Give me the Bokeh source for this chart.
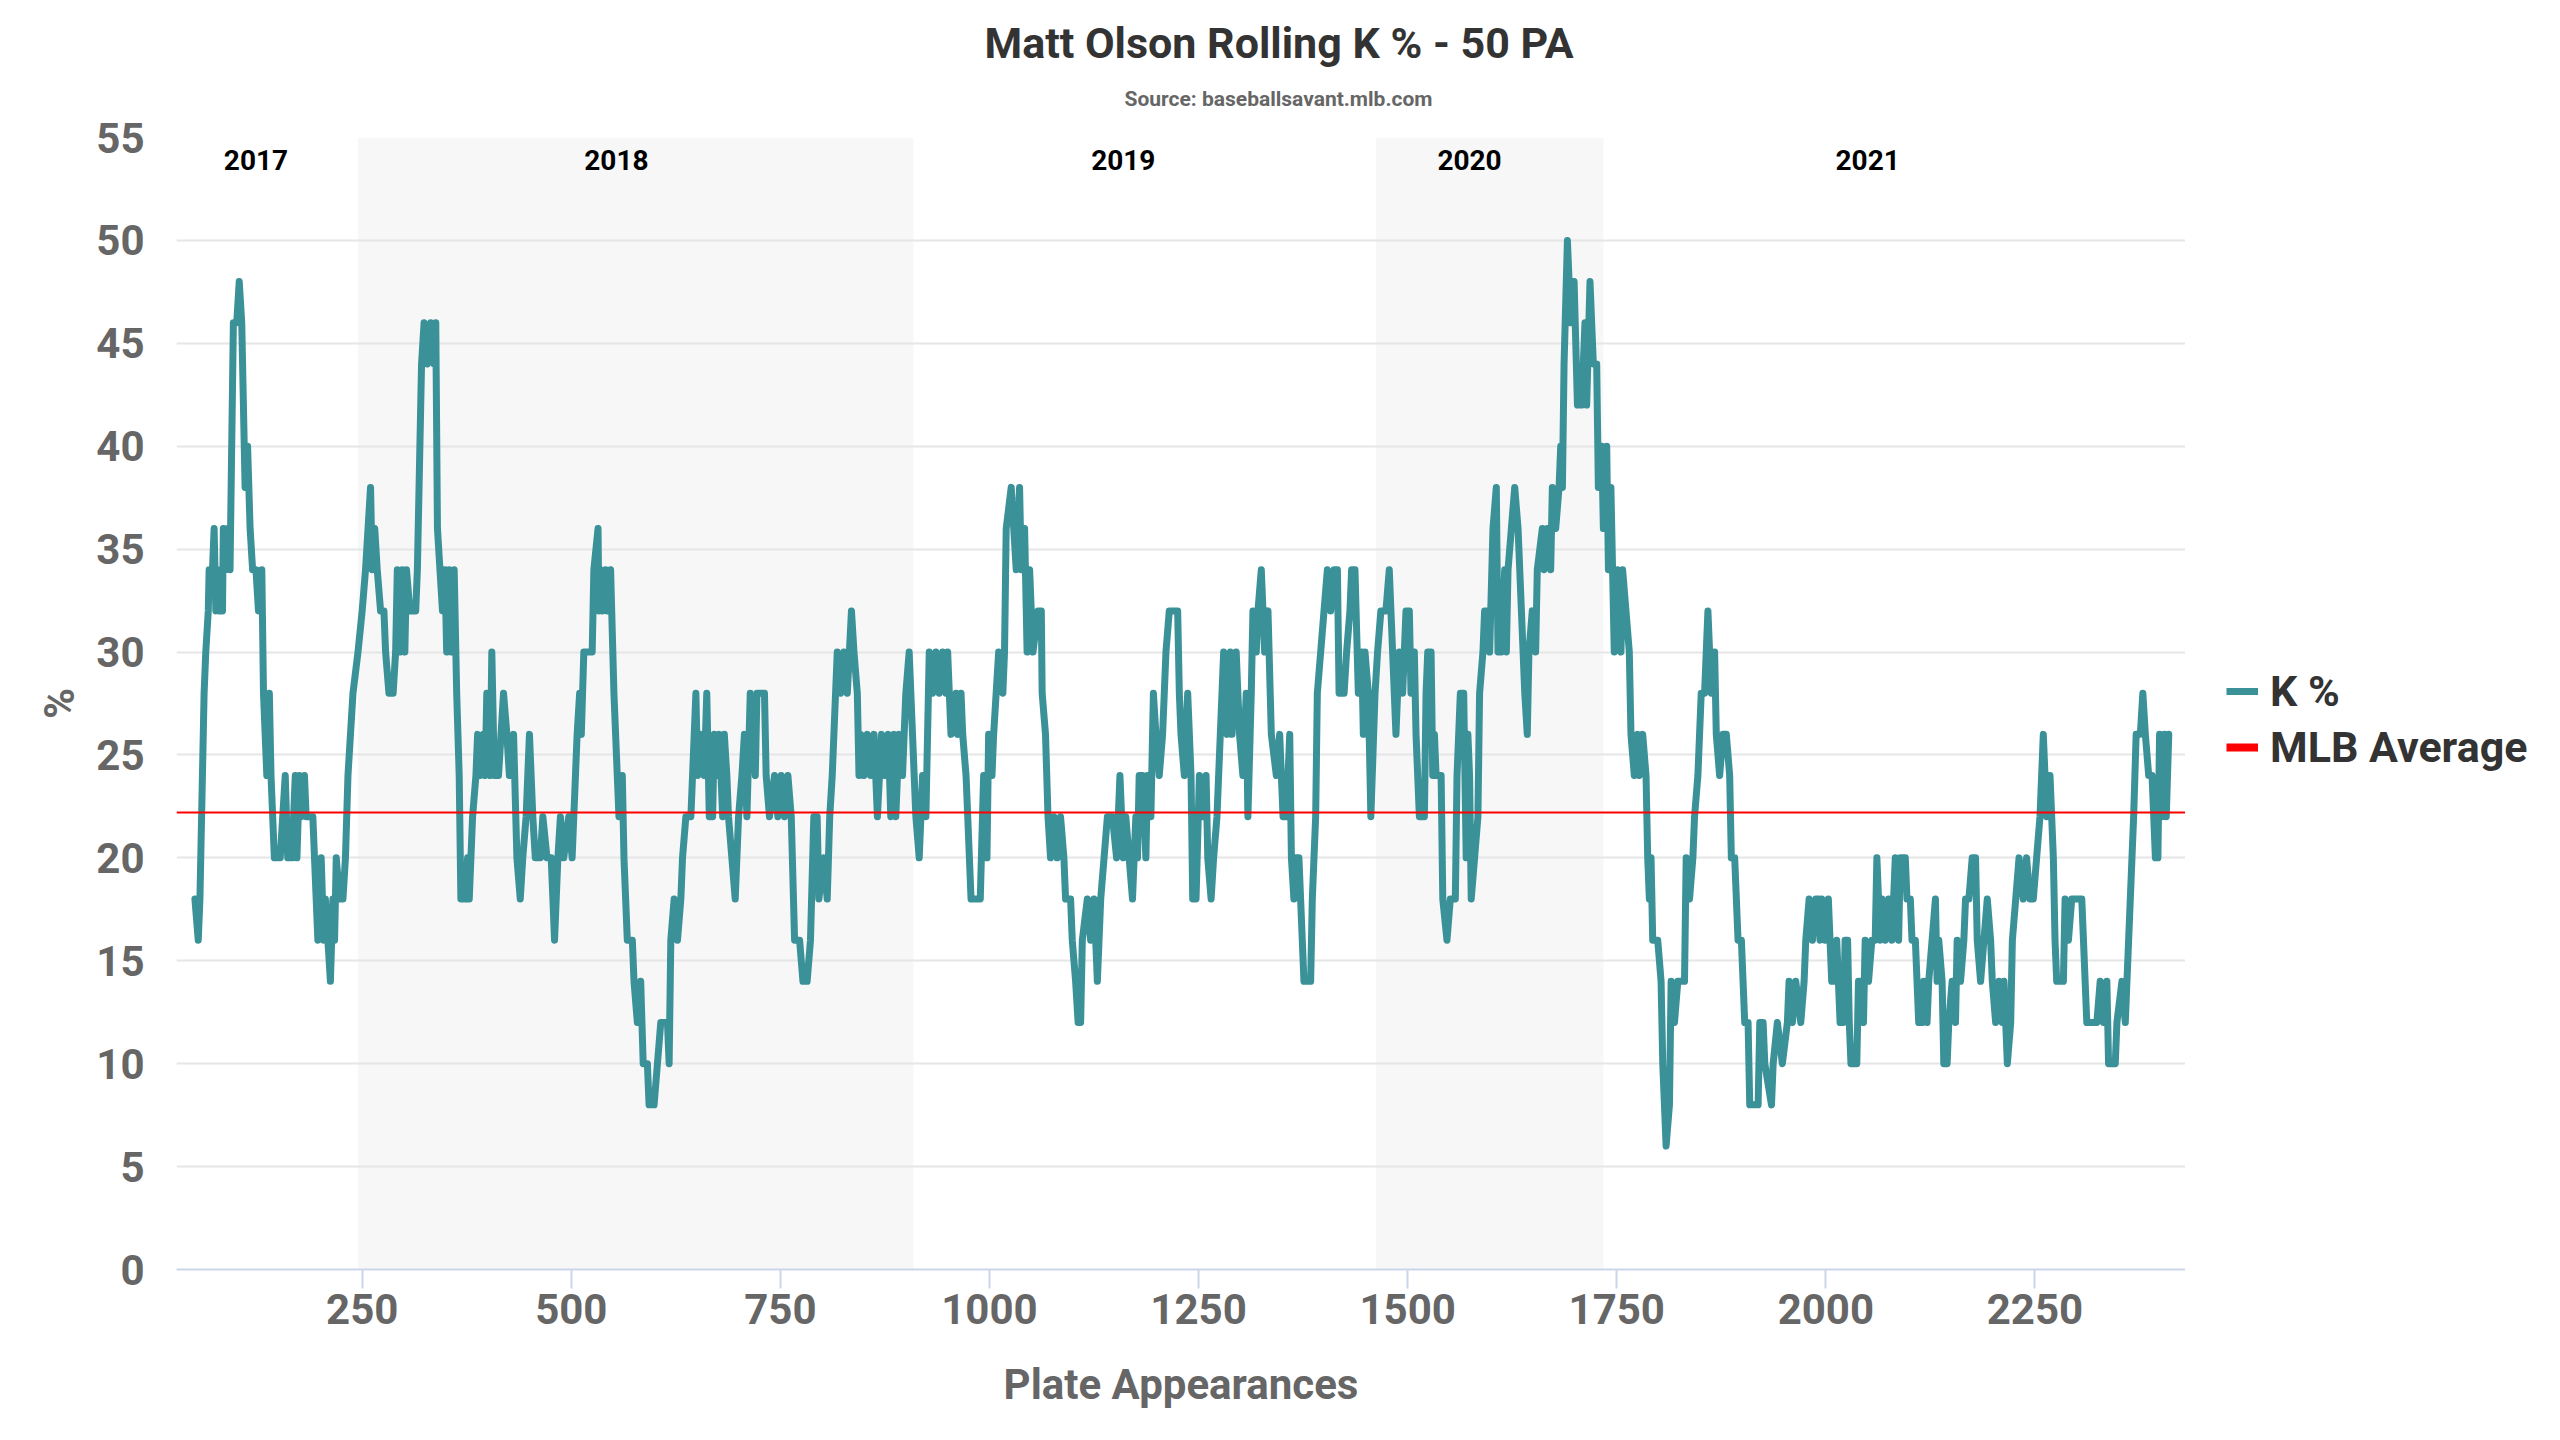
from bokeh.plotting import figure
from bokeh.layouts import row
from bokeh.models import (Range1d, FixedTicker, BoxAnnotation, Span, Legend,
                          LegendItem, Title)
from bokeh.embed import file_html
from bokeh.resources import INLINE
from bokeh.core.properties import value

# ---------------- data ----------------
pa = [
    50, 54, 56, 58, 61, 63, 66, 67, 71, 73, 75, 77, 79, 83, 84, 86, 89, 92, 94, 96,
    100, 103, 106, 108, 110, 113, 116, 119, 123, 126, 130, 132, 136, 139, 141, 145, 152, 158, 161, 166,
    170, 172, 175, 177, 181, 183, 191, 193, 195, 197, 201, 204, 206, 212, 215, 217, 219, 223, 227, 230,
    233, 236, 239, 245, 250, 254, 260, 262, 265, 268, 272, 276, 278, 282, 287, 290, 292, 295, 298, 301,
    303, 307, 314, 316, 318, 321, 324, 328, 332, 336, 338, 340, 343, 346, 349, 351, 354, 357, 360, 363,
    366, 368, 374, 376, 378, 382, 386, 388, 391, 395, 397, 399, 403, 405, 408, 413, 419, 423, 426, 431,
    435, 439, 442, 446, 450, 454, 457, 463, 466, 471, 476, 480, 484, 487, 491, 497, 501, 505, 507, 510,
    512, 515, 522,
    525, 527, 532, 533, 535, 537, 541, 543, 547, 551, 553, 555, 557, 561, 563, 567, 573, 575, 579, 583,
    586, 591, 593, 599, 603, 607, 615, 617, 619, 623, 627, 631, 633, 637, 643, 645, 649, 651, 655, 659,
    662, 665, 669, 671, 675, 677, 681, 683, 686, 688, 692, 696, 700, 704, 707, 710, 714, 718, 720, 722,
    731, 733, 737, 743, 747, 751, 755, 759, 763, 767, 773, 777, 782, 786, 790, 794, 796, 802, 806, 809,
    812, 814, 818, 822, 826, 830, 835, 838, 842, 844, 846, 850, 854, 858, 862, 866, 871, 875, 879, 882,
    886, 888, 892, 896, 900, 904, 908, 912, 916, 920, 924, 928, 932, 936, 940, 944, 948, 950, 954, 960,
    962, 966, 968, 972, 974, 978, 989, 993, 997, 999, 1003, 1005, 1011,
    1016, 1018, 1020, 1026, 1032, 1036, 1038, 1042, 1045, 1048, 1052, 1058, 1062, 1063, 1067, 1070, 1073, 1077, 1081, 1085,
    1089, 1091, 1097, 1099, 1103, 1106, 1109, 1111, 1117, 1121, 1125, 1129, 1133, 1137, 1141, 1147, 1152, 1156, 1160, 1163,
    1167, 1171, 1175, 1177, 1179, 1183, 1187, 1189, 1193, 1196, 1199, 1203, 1207, 1211, 1215, 1225, 1227, 1229, 1233, 1237,
    1241, 1243, 1247, 1251, 1255, 1259, 1261, 1265, 1268, 1272, 1276, 1280, 1284, 1288, 1290, 1295, 1299, 1303, 1307, 1309,
    1313, 1315, 1319, 1321, 1325, 1329, 1333, 1337, 1343, 1347, 1351, 1355, 1359, 1361, 1364, 1366, 1370, 1374, 1376, 1384,
    1386, 1390, 1392, 1396, 1400, 1404, 1408, 1412, 1416, 1418, 1424, 1427, 1431, 1433, 1437, 1441, 1445, 1447, 1449, 1453,
    1456, 1461, 1464, 1468, 1474, 1478, 1482, 1486, 1490, 1494, 1498, 1502,
    1504, 1508, 1510, 1512, 1514, 1520, 1522, 1524, 1528, 1530, 1532, 1534, 1540, 1542, 1547, 1551, 1557, 1559, 1563, 1567,
    1570, 1572, 1574, 1576, 1580, 1584, 1586, 1590, 1592, 1596, 1598, 1602, 1606, 1608, 1610, 1612, 1616, 1618, 1620, 1624,
    1628, 1632, 1636, 1640, 1643, 1645, 1649, 1653, 1655, 1661, 1663, 1667, 1671, 1673, 1677, 1681, 1683, 1685, 1687, 1691,
    1695, 1699, 1703, 1708, 1712, 1714, 1718, 1722, 1726, 1728, 1732, 1734, 1738, 1740, 1743, 1745, 1747, 1751, 1755, 1757,
    1761, 1765, 1767, 1771, 1775, 1777, 1781, 1785, 1787, 1789, 1791, 1793, 1799, 1803, 1805, 1809, 1813, 1815, 1819, 1823,
    1831, 1833, 1837, 1841, 1843, 1847, 1851, 1855, 1857, 1859, 1863, 1867, 1869, 1873, 1877, 1881, 1885, 1887, 1891, 1893,
    1895, 1899, 1901, 1903, 1907, 1909, 1919, 1921, 1925, 1927, 1935, 1937, 1942, 1948, 1954, 1956, 1960, 1964, 1970, 1974,
    1976, 1980, 1984, 1988, 1992,
    1993, 1995, 1999, 2003, 2007, 2011, 2013, 2017, 2021, 2023, 2026, 2028, 2030, 2037, 2039, 2043, 2045, 2047, 2051, 2055,
    2059, 2061, 2065, 2067, 2071, 2075, 2079, 2083, 2087, 2089, 2095, 2097, 2101, 2103, 2107, 2111, 2115, 2117, 2121, 2123,
    2127, 2131, 2133, 2135, 2139, 2141, 2145, 2147, 2151, 2155, 2157, 2161, 2165, 2167, 2171, 2175, 2179, 2181, 2185, 2189,
    2193, 2197, 2199, 2203, 2207, 2211, 2213, 2217, 2221, 2223, 2227, 2231, 2236, 2240, 2244, 2248, 2252, 2256, 2260, 2264,
    2268, 2272, 2274, 2276, 2284, 2286, 2290, 2294, 2306, 2308, 2312, 2324, 2328, 2332, 2336, 2338, 2346, 2348, 2354, 2358,
    2362, 2366, 2368, 2371, 2376, 2379, 2382, 2386, 2390, 2394, 2397, 2399, 2402, 2405, 2407, 2410,
]
k_pct = [
    18, 16, 18, 22, 28, 30, 32, 34, 34, 36, 32, 34, 32, 32, 36, 34, 36, 34, 40, 46,
    46, 48, 46, 42, 38, 40, 36, 34, 34, 32, 34, 28, 24, 28, 24, 20, 20, 24, 20, 20,
    24, 20, 24, 22, 24, 22, 22, 20, 18, 16, 20, 16, 18, 14, 18, 16, 20, 18, 18, 20,
    24, 26, 28, 30, 32, 34, 38, 34, 36, 34, 32, 32, 30, 28, 28, 30, 34, 30, 34, 30,
    34, 32, 32, 34, 38, 44, 46, 44, 46, 44, 46, 36, 34, 32, 34, 30, 34, 30, 34, 28,
    24, 18, 18, 20, 18, 22, 24, 26, 24, 26, 24, 28, 24, 30, 24, 24, 28, 26, 24, 26,
    20, 18, 20, 22, 26, 22, 20, 20, 22, 20, 20, 16, 20, 22, 20, 22, 20, 24, 26, 28,
    26, 30, 30,
    30, 34, 36, 32, 34, 32, 34, 32, 34, 28, 26, 24, 22, 24, 20, 16, 16, 14, 12, 14,
    10, 10, 8, 8, 10, 12, 12, 10, 16, 18, 16, 18, 20, 22, 22, 24, 28, 24, 26, 24,
    28, 22, 22, 26, 24, 26, 22, 26, 24, 22, 20, 18, 22, 24, 26, 22, 28, 26, 24, 28,
    28, 24, 22, 24, 22, 24, 22, 24, 22, 16, 16, 14, 14, 16, 22, 22, 18, 20, 18, 22,
    24, 26, 30, 28, 30, 28, 32, 30, 28, 24, 26, 24, 26, 24, 26, 22, 26, 24, 26, 22,
    26, 22, 26, 24, 28, 30, 26, 22, 20, 24, 22, 30, 28, 30, 28, 30, 28, 30, 26, 28,
    26, 28, 26, 24, 22, 18, 18, 24, 20, 26, 24, 26, 30,
    28, 30, 36, 38, 34, 38, 34, 36, 30, 34, 30, 32, 32, 28, 26, 22, 20, 22, 20, 22,
    20, 18, 18, 16, 14, 12, 12, 16, 18, 16, 18, 14, 18, 20, 22, 22, 20, 24, 20, 22,
    20, 18, 22, 20, 24, 24, 20, 24, 22, 28, 26, 24, 26, 30, 32, 32, 28, 26, 24, 28,
    24, 18, 18, 24, 22, 24, 20, 18, 20, 22, 26, 30, 26, 30, 26, 30, 26, 24, 28, 22,
    28, 32, 30, 32, 34, 30, 32, 26, 24, 26, 22, 22, 26, 20, 18, 20, 20, 16, 14, 14,
    18, 22, 28, 30, 32, 34, 32, 34, 34, 28, 28, 30, 32, 34, 34, 28, 30, 26, 30, 28,
    22, 28, 30, 32, 32, 34, 30, 26, 30, 28, 32, 32,
    28, 30, 26, 24, 22, 22, 28, 30, 30, 24, 26, 24, 24, 18, 16, 18, 18, 24, 28, 28,
    20, 26, 24, 18, 20, 22, 28, 30, 32, 32, 30, 36, 38, 30, 32, 30, 34, 30, 34, 36,
    38, 36, 32, 28, 26, 30, 32, 30, 34, 36, 34, 36, 34, 38, 36, 38, 40, 38, 44, 50,
    46, 48, 42, 42, 46, 42, 48, 44, 44, 38, 40, 36, 40, 34, 38, 34, 30, 34, 30, 34,
    32, 30, 26, 24, 26, 24, 26, 24, 20, 18, 20, 16, 16, 14, 10, 6, 8, 14, 12, 14,
    14, 20, 18, 20, 22, 24, 28, 28, 30, 32, 28, 30, 26, 24, 26, 26, 24, 20, 20, 18,
    16, 16, 14, 12, 12, 8, 8, 12, 12, 10, 8, 10, 12, 10, 12, 14, 12, 14, 12, 14,
    16, 18, 16, 18, 18,
    16, 18, 16, 18, 14, 14, 16, 12, 12, 16, 16, 12, 10, 10, 14, 14, 12, 16, 14, 16,
    16, 20, 16, 18, 16, 18, 16, 20, 16, 20, 20, 18, 18, 16, 16, 12, 12, 14, 12, 14,
    16, 18, 14, 16, 14, 10, 10, 12, 14, 12, 16, 14, 16, 18, 18, 20, 20, 16, 14, 16,
    18, 16, 14, 12, 14, 12, 14, 10, 12, 16, 18, 20, 18, 20, 18, 18, 20, 22, 26, 22,
    24, 20, 16, 14, 14, 18, 16, 18, 18, 16, 12, 12, 14, 12, 14, 10, 10, 12, 14, 12,
    16, 20, 22, 26, 26, 28, 26, 24, 24, 20, 20, 26, 22, 26, 22, 26,
]
mlb_average = 22.2

season_names = ["2017", "2018", "2019", "2020", "2021"]
season_label_pa = [123, 554, 1160, 1574, 2050]
shaded_start = [245, 1462]     # 2018, 2020
shaded_end = [909, 1734]

x_ticks = [250, 500, 750, 1000, 1250, 1500, 1750, 2000, 2250]
y_ticks = [0, 5, 10, 15, 20, 25, 30, 35, 40, 45, 50, 55]

series_names = ["K %", "MLB Average"]

# ---------------- style ----------------
FONT = "Roboto"
TEAL = "#3b9198"
RED = "#ff0000"
GRAY = "#666666"
DARK = "#333333"

p = figure(width=2185, height=1440, output_backend="svg", toolbar_location=None,
           x_range=Range1d(28, 2430), y_range=Range1d(0, 55),
           min_border_left=176, min_border_right=0,
           min_border_top=137, min_border_bottom=171,
           background_fill_color="white", border_fill_color="white",
           outline_line_color=None)
p.title = None

sub = Title(text="Source: baseballsavant.mlb.com", align="left", offset=948,
            text_font=FONT, text_font_size="21px", text_font_style="bold",
            text_color=GRAY, standoff=53)
main = Title(text="Matt Olson Rolling K % - 50 PA", align="left", offset=808,
             text_font=FONT, text_font_size="43px", text_font_style="bold",
             text_color=DARK, standoff=-18)
p.add_layout(sub, "above")
p.add_layout(main, "above")

for s, e in zip(shaded_start, shaded_end):
    p.add_layout(BoxAnnotation(left=s, right=e, fill_color="#f7f7f7", fill_alpha=1.0,
                               line_color=None, level="image"))

p.xgrid.grid_line_color = None
p.ygrid.ticker = FixedTicker(ticks=y_ticks)
p.ygrid.grid_line_color = "#e6e6e6"
p.ygrid.grid_line_width = 2

# x axis
xa = p.xaxis[0]
xa.ticker = FixedTicker(ticks=x_ticks)
xa.axis_line_color = "#ccd6eb"
xa.axis_line_width = 2
xa.major_tick_line_color = "#ccd6eb"
xa.major_tick_line_width = 2
xa.major_tick_in = 0
xa.major_tick_out = 19
xa.minor_tick_line_color = None
xa.major_label_text_font = FONT
xa.major_label_text_font_size = "42px"
xa.major_label_text_font_style = "bold"
xa.major_label_text_color = GRAY
xa.major_label_standoff = 5
xa.axis_label = "Plate Appearances"
xa.axis_label_text_font = FONT
xa.axis_label_text_font_size = "42px"
xa.axis_label_text_font_style = "bold"
xa.axis_label_text_color = GRAY
xa.axis_label_standoff = 33

# y axis
ya = p.yaxis[0]
ya.ticker = FixedTicker(ticks=y_ticks)
ya.axis_line_color = None
ya.major_tick_line_color = None
ya.major_tick_in = 0
ya.major_tick_out = 0
ya.minor_tick_line_color = None
ya.major_label_text_font = FONT
ya.major_label_text_font_size = "42px"
ya.major_label_text_font_style = "bold"
ya.major_label_text_color = GRAY
ya.major_label_standoff = 32
ya.axis_label = "%"
ya.axis_label_text_font = FONT
ya.axis_label_text_font_size = "42px"
ya.axis_label_text_font_style = "bold"
ya.axis_label_text_color = GRAY
ya.axis_label_standoff = 9

# season labels
p.text(x=season_label_pa, y=[53.9] * len(season_names), text=season_names,
       text_font=value(FONT), text_font_size="28px", text_font_style="bold",
       text_color="black", text_align="center", text_baseline="middle")

p.line(pa, k_pct, line_color=TEAL, line_width=7, line_join="round", line_cap="round")

p.add_layout(Span(location=mlb_average, dimension="width",
                  line_color=RED, line_width=2))

# ---------------- legend panel (right) ----------------
lg = figure(width=375, height=1440, output_backend="svg", toolbar_location=None,
            x_range=Range1d(0, 1), y_range=Range1d(0, 1),
            x_axis_type=None, y_axis_type=None,
            min_border=0, min_border_left=0, min_border_right=0,
            min_border_top=0, min_border_bottom=0,
            background_fill_color="white", border_fill_color="white",
            outline_line_color=None)
lg.title = None
# swatch-only renderers (no visible data) for the legend entries
sw_k = lg.line(x=[float("nan")], y=[float("nan")], line_color=TEAL, line_width=7)
sw_avg = lg.line(x=[float("nan")], y=[float("nan")], line_color=RED, line_width=8)

legend = Legend(items=[LegendItem(label=series_names[0], renderers=[sw_k]),
                       LegendItem(label=series_names[1], renderers=[sw_avg])],
                location=(41, 497), orientation="vertical",
                border_line_color=None, background_fill_alpha=0,
                padding=0, margin=0, spacing=6,
                glyph_width=32, glyph_height=30, label_standoff=12,
                label_text_font=FONT, label_text_font_size="43px",
                label_text_font_style="bold", label_text_color=DARK)
lg.add_layout(legend)

layout = row(p, lg, spacing=0)
open("out.html", "w").write(file_html(layout, INLINE))
